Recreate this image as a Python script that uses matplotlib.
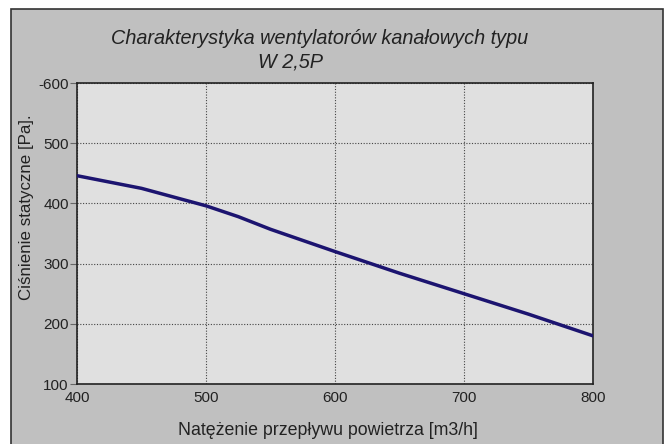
import matplotlib.pyplot as plt
from matplotlib.patches import Rectangle

# fan characteristic W 2,5P
flow = [400, 450, 500, 525, 550, 600, 650, 700, 750, 800]
pressure = [446, 425, 396, 378, 357, 320, 284, 250, 216, 180]

x_ticks = [400, 500, 600, 700, 800]
y_ticks = [100, 200, 300, 400, 500, 600]
y_tick_labels = ['100', '200', '300', '400', '500', '-600']

plt.rcParams['font.family'] = ['Liberation Sans', 'DejaVu Sans']

W, H = 665, 444
fig = plt.figure(figsize=(W / 100, H / 100), dpi=100, facecolor='white')

# gray frame behind everything
frame = Rectangle((10.5 / W, -0.05), (663 - 10.5) / W, 1.05 - 9 / H,
                  transform=fig.transFigure, facecolor='#c0c0c0',
                  edgecolor='#333333', linewidth=1.2, zorder=-10)
fig.patches.append(frame)

ax = fig.add_axes([77 / W, 1 - 384 / H, (593 - 77) / W, (384 - 83) / H])
ax.set_facecolor('#e0e0e0')

ax.plot(flow, pressure, color='#1c1470', linewidth=2.5, zorder=3)

ax.set_xlim(400, 800)
ax.set_ylim(100, 600)
ax.set_xticks(x_ticks)
ax.set_yticks(y_ticks)
ax.set_yticklabels(y_tick_labels)

ax.grid(True, linestyle=(0, (1, 1.5)), color='#444444', linewidth=0.8)
ax.tick_params(axis='x', length=0, pad=5, labelsize=11, colors='#222222')
ax.tick_params(axis='y', length=5, width=0.8, pad=1, labelsize=11,
               colors='#222222')
ax.tick_params(axis='y', color='#666666')

for s in ax.spines.values():
    s.set_color('#222222')
    s.set_linewidth(1.2)

fig.text(320 / W, 1 - 38 / H, 'Charakterystyka wentylatorów kanałowych typu',
         ha='center', va='center', fontsize=14.3, style='italic', color='#222222')
fig.text(290 / W, 1 - 62 / H, 'W 2,5P',
         ha='center', va='center', fontsize=14.3, style='italic', color='#222222')

fig.text(328 / W, 1 - 430 / H, 'Natężenie przepływu powietrza [m3/h]',
         ha='center', va='center', fontsize=12.8, color='#222222')
fig.text(27 / W, 1 - 207 / H, 'Ciśnienie statyczne [Pa].',
         ha='center', va='center', rotation=90, fontsize=12.2, color='#222222')

fig.savefig('out.png', dpi=100, facecolor=fig.get_facecolor())
